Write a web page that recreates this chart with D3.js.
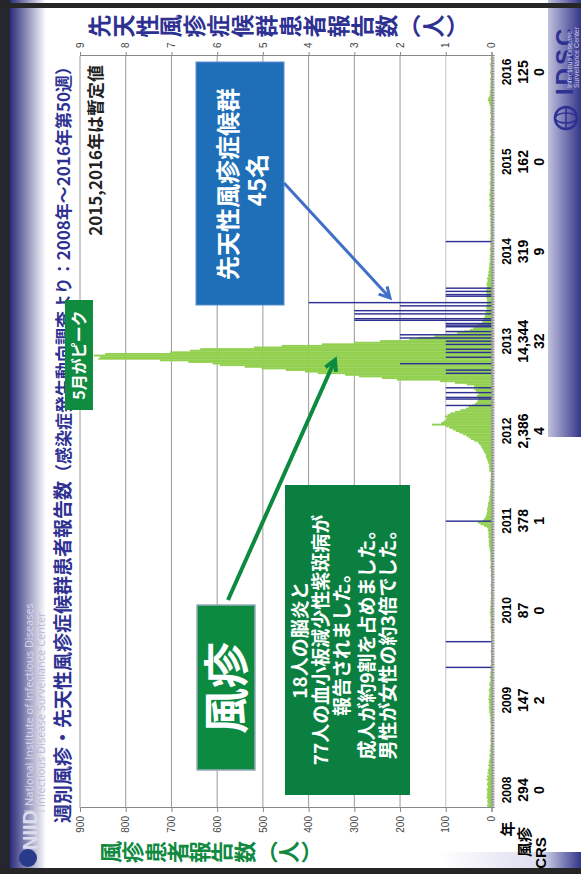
<!DOCTYPE html>
<html>
<head>
<meta charset="utf-8">
<script src="https://cdn.jsdelivr.net/npm/d3@7"></script>
<style>
  body { margin: 0; background: #fff; }
  svg { display: block; }
  .jp { font-family: "Noto Sans CJK JP", "Noto Sans", sans-serif; font-weight: bold; }
  .num { font-family: "Liberation Sans", Arial, sans-serif; font-weight: bold; }
  .axis text { font-family: "Liberation Sans", Arial, sans-serif; font-size: 10px; fill: #444; }
  .axis path, .axis line { stroke: #888; }
</style>
</head>
<body>
<div id="chart"></div>
<script>
// weekly rubella reports, one array per year (2016 up to week 50)
var rubella2008 = [8,10,7,9,9,8,11,9,10,9,9,11,8,8,10,9,7,11,8,10,6,9,7,8,6,5,7,4,6,5,4,3,5,3,2,4,3,2,3,2,1,3,2,2,1,2,3,1,2,2,1,2];
var rubella2009 = [2,3,2,3,2,4,3,5,4,5,6,4,5,6,5,7,4,6,5,4,5,6,4,3,5,4,3,2,3,4,2,3,2,1,2,1,2,1,1,2,1,1,0,1,1,2,1,0,1,1,1,0,1];
var rubella2010 = [1,2,1,1,2,1,2,3,1,2,2,3,2,1,3,2,4,2,3,2,3,1,2,2,1,2,1,1,2,1,1,0,1,2,1,1,0,1,1,2,1,1,2,1,3,2,2,1,2,3,2,3];
var rubella2011 = [2,3,3,4,4,5,6,5,6,6,5,7,6,7,6,8,7,10,16,24,30,20,17,14,12,11,10,9,10,9,8,7,8,6,5,4,5,4,3,4,3,3,2,3,2,2,3,2,2,1,2,1];
var rubella2012 = [4,5,5,6,5,7,8,9,11,12,12,14,16,18,20,22,24,27,30,38,45,50,55,62,70,78,85,92,100,130,110,105,100,98,102,96,90,80,68,56,50,42,36,32,30,28,30,32,28,30,34,38];
var rubella2013 = [30,38,54,80,113,207,240,290,320,380,408,450,503,540,594,610,663,725,860,856,870,845,703,660,637,520,459,371,300,244,180,160,125,98,75,60,47,40,35,30,21,20,18,16,15,14,12,13,11,10,12,9];
var rubella2014 = [10,11,9,10,11,12,10,11,12,11,12,9,11,10,9,8,10,7,8,6,7,5,6,5,4,5,4,3,4,3,4,3,2,3,4,3,2,3,2,3,2,3,2,2,3,2,3,2,2,3,2,3];
var rubella2015 = [2,3,2,4,3,2,3,4,3,5,4,3,4,5,3,4,5,4,3,4,3,2,3,4,3,2,3,2,3,4,2,3,2,3,2,3,2,4,3,2,3,2,3,2,4,3,2,3,2,3,4,2,3];
var rubella2016 = [2,1,2,3,2,1,2,3,2,2,3,2,1,2,3,2,3,2,3,4,5,6,8,7,5,4,3,4,3,2,3,2,3,2,2,3,2,1,2,3,2,2,1,2,3,2,1,2,2,1];

// congenital rubella syndrome cases by report week
var crsYear  = [2009,2009,2011,2012,2012,2012,2012,2013,2013,2013,2013,2013,2013,2013,2013,2013,2013,2013,2013,2013,2013,2013,2013,2013,2013,2013,2013,2014,2014,2014,2014,2014,2014];
var crsWeek  = [36,52,22,42,46,47,50,1,10,12,16,20,23,25,28,30,32,34,36,39,40,41,43,44,47,49,52,2,6,7,9,11,40];
var crsCount = [1,1,1,1,1,1,1,1,1,1,2,1,1,1,1,1,2,2,1,1,1,1,3,3,3,3,2,4,1,1,1,1,1];

// table under the chart
var years = ["2008","2009","2010","2011","2012","2013","2014","2015","2016"];
var rubellaTotals = ["294","147","87","378","2,386","14,344","319","162","125"];
var crsTotals = ["0","2","0","1","4","32","9","0","0"];

var leftTicks = [0,100,200,300,400,500,600,700,800,900];
var rightTicks = [0,1,2,3,4,5,6,7,8,9];

var leftTitle = "風疹患者報告数︵人︶";
var rightTitle = "先天性風疹症候群患者報告数︵人︶";
var textLines = ["18人の脳炎と", "77人の血小板減少性紫斑病が", "報告されました。", "成人が約9割を占めました。", "男性が女性の約3倍でした。"];

var yearly = [rubella2008, rubella2009, rubella2010, rubella2011, rubella2012, rubella2013, rubella2014, rubella2015, rubella2016];

//Flatten weekly data and remember where each year starts
var weekly = [];
var yearStart = {};
yearly.forEach(function(arr, i) {
  yearStart[years[i]] = weekly.length;
  arr.forEach(function(v) { weekly.push(v); });
});
var crs = crsYear.map(function(y, i) {
  return { idx: yearStart[y] + crsWeek[i] - 1, n: crsCount[i] };
});

//The slide is landscape (874 x 581) and shown rotated into the portrait page
var W = 874, H = 581;
var svg = d3.select("#chart").append("svg")
  .attr("width", 581)
  .attr("height", 874);

var defs = svg.append("defs");
var g1 = defs.append("linearGradient").attr("id", "topBand")
  .attr("x1", 0).attr("y1", 0).attr("x2", 0).attr("y2", 1);
g1.append("stop").attr("offset", "0%").attr("stop-color", "#2a2c7c");
g1.append("stop").attr("offset", "100%").attr("stop-color", "#ffffff");
var g2 = defs.append("linearGradient").attr("id", "botBand")
  .attr("x1", 0).attr("y1", 0).attr("x2", 0).attr("y2", 1);
g2.append("stop").attr("offset", "0%").attr("stop-color", "#ffffff");
g2.append("stop").attr("offset", "72%").attr("stop-color", "#dcdcee");
g2.append("stop").attr("offset", "100%").attr("stop-color", "#34358a");

var slide = svg.append("g")
  .attr("transform", "translate(0," + W + ") rotate(-90)");

//Slide background, bands and the white chart area on top of them
slide.append("rect").attr("width", W).attr("height", H).attr("fill", "#fff");
slide.append("rect").attr("x", 0).attr("y", 440).attr("width", W).attr("height", 141).attr("fill", "url(#botBand)");
slide.append("rect").attr("x", 22).attr("y", 46).attr("width", 415).attr("height", 535).attr("fill", "#fff");
slide.append("rect").attr("x", 22).attr("y", 46).attr("width", 852).attr("height", 502).attr("fill", "#fff");
slide.append("rect").attr("x", 0).attr("y", 0).attr("width", W).attr("height", 10).attr("fill", "#262630");
slide.append("rect").attr("x", 0).attr("y", 10).attr("width", W).attr("height", 36).attr("fill", "url(#topBand)");
slide.append("rect").attr("x", 0).attr("y", 0).attr("width", 6).attr("height", H).attr("fill", "#262626");
slide.append("rect").attr("x", 866).attr("y", 0).attr("width", 5).attr("height", H).attr("fill", "#262626");

//Scales
var x = d3.scaleLinear().domain([0, weekly.length]).range([66, 818]);
var y = d3.scaleLinear().domain([0, 900]).range([491.5, 80]);
var yR = d3.scaleLinear().domain([0, 9]).range([491.5, 80]);

//Grid
slide.append("g")
  .selectAll("line")
  .data(leftTicks.slice(1))
  .enter()
  .append("line")
  .attr("x1", 66).attr("x2", 818)
  .attr("y1", function(d) { return y(d); })
  .attr("y2", function(d) { return y(d); })
  .attr("stroke", function(d) { return d == 100 ? "#c4c4c4" : "#9a9a9a"; })
  .attr("stroke-width", 1);

//Rubella bars
slide.append("g")
  .selectAll("rect")
  .data(weekly)
  .enter()
  .append("rect")
  .attr("x", function(d, i) { return x(i); })
  .attr("width", function(d, i) { return x(i + 1) - x(i) + 0.3; })
  .attr("y", function(d) { return y(d); })
  .attr("height", function(d) { return y(0) - y(d); })
  .attr("fill", "#92d050");

//CRS bars
slide.append("g")
  .selectAll("rect")
  .data(crs)
  .enter()
  .append("rect")
  .attr("x", function(d) { return x(d.idx) + 0.1; })
  .attr("width", function(d) { return (x(d.idx + 1) - x(d.idx)) * 0.9; })
  .attr("y", function(d) { return yR(d.n); })
  .attr("height", function(d) { return yR(0) - yR(d.n); })
  .attr("fill", "#2e3192");

//Axes
slide.append("g")
  .attr("class", "axis")
  .attr("transform", "translate(66,0)")
  .call(d3.axisLeft(y).tickValues(leftTicks).tickSize(4).tickPadding(4));

slide.append("g")
  .attr("class", "axis")
  .attr("transform", "translate(818,0)")
  .call(d3.axisRight(yR).tickValues(rightTicks).tickSize(4).tickPadding(4));

slide.append("g")
  .attr("class", "axis")
  .attr("transform", "translate(0,491.5)")
  .call(d3.axisBottom(x).tickValues(d3.range(weekly.length + 1)).tickSize(3).tickFormat(""))
  .selectAll("line").attr("stroke", "#aaa");

//Table under the time axis
var col = d3.scalePoint().domain(years).range([84, 802]);
var rows = [years, rubellaTotals, crsTotals];
var rowY = [511, 528, 544];
rows.forEach(function(r, k) {
  slide.append("g")
    .selectAll("text")
    .data(r)
    .enter()
    .append("text")
    .attr("class", "num")
    .attr("x", function(d, i) { return col(years[i]); })
    .attr("y", rowY[k])
    .attr("text-anchor", "middle")
    .style("font-size", k == 0 ? "12px" : "14px")
    .text(function(d) { return d; });
});
slide.append("text").attr("class", "jp").attr("x", 45).attr("y", 513)
  .attr("text-anchor", "middle").style("font-size", "15px").text("年");
slide.append("text").attr("class", "jp").attr("x", 32).attr("y", 530)
  .attr("text-anchor", "middle").style("font-size", "15px").text("風疹");
slide.append("text").attr("class", "num").attr("x", 21).attr("y", 546)
  .attr("text-anchor", "middle").style("font-size", "15px").text("CRS");

//Axis titles, written vertically one character at a time
function verticalTitle(str, cx, top, step, size, color) {
  slide.append("g")
    .selectAll("text")
    .data(str.split(""))
    .enter()
    .append("text")
    .attr("class", "jp")
    .attr("x", cx)
    .attr("y", function(d, i) { return top + i * step + size * 0.86; })
    .attr("text-anchor", "middle")
    .style("font-size", size + "px")
    .attr("fill", color)
    .text(function(d) { return d; });
}
verticalTitle(leftTitle, 22, 100, 22.3, 22, "#0f8a3f");
verticalTitle(rightTitle, 848, 88, 23.9, 23, "#2e3192");

//Title
var title = slide.append("text")
  .attr("class", "jp")
  .attr("x", 51).attr("y", 70)
  .attr("fill", "#2e3192");
title.append("tspan").style("font-size", "19px").text("週別風疹・先天性風疹症候群患者報告数");
title.append("tspan").style("font-size", "17px").text("（感染症発生動向調査より：2008年～2016年第50週）");

//NIID header
slide.append("text").attr("x", 68).attr("y", 33)
  .style("font-family", "'Open Sans', sans-serif").style("font-size", "11px")
  .attr("fill", "#d8d8ee").text("National Institute of Infectious Diseases");
slide.append("text").attr("x", 67).attr("y", 45)
  .style("font-family", "'Open Sans', sans-serif").style("font-size", "11px")
  .attr("fill", "#b8b8d8").text("Infectious Disease Surveillance Center");
slide.append("line").attr("x1", 63).attr("x2", 63).attr("y1", 24).attr("y2", 45)
  .attr("stroke", "#c8c8e0");
slide.append("circle").attr("cx", 16).attr("cy", 28).attr("r", 9).attr("fill", "#2a3a8a");
slide.append("text").attr("x", 24).attr("y", 37)
  .style("font-family", "'Liberation Sans', sans-serif").style("font-weight", "bold").style("font-size", "20px")
  .attr("fill", "#dde").text("NIID");

//IDSC logo
var globe = slide.append("g").attr("transform", "translate(756,566)");
globe.append("circle").attr("r", 11).attr("fill", "none").attr("stroke", "#2e3192").attr("stroke-width", 2.5);
globe.append("ellipse").attr("rx", 5).attr("ry", 11).attr("fill", "none").attr("stroke", "#2e3192").attr("stroke-width", 1.5);
globe.append("line").attr("x1", -11).attr("x2", 11).attr("stroke", "#2e3192").attr("stroke-width", 1.5);
slide.append("text").attr("x", 779).attr("y", 573)
  .style("font-family", "'Liberation Sans', sans-serif").style("font-weight", "bold").style("font-size", "24px")
  .style("letter-spacing", "3px")
  .attr("fill", "#2e3192").text("IDSC");
slide.append("text").attr("x", 786).attr("y", 572)
  .style("font-family", "'Liberation Sans', sans-serif").style("font-size", "7px")
  .attr("fill", "#c8c8e8").text("Infectious Disease");
slide.append("text").attr("x", 786).attr("y", 579)
  .style("font-family", "'Liberation Sans', sans-serif").style("font-size", "7px")
  .attr("fill", "#c8c8e8").text("Surveillance Center");

//Annotations
slide.append("text").attr("class", "jp")
  .attr("x", 809).attr("y", 102)
  .attr("text-anchor", "end")
  .style("font-size", "17px")
  .attr("fill", "#222")
  .text("2015,2016年は暫定値");

slide.append("rect").attr("x", 464).attr("y", 65).attr("width", 110).attr("height", 28).attr("fill", "#0f8c3f");
slide.append("text").attr("class", "jp")
  .attr("x", 519).attr("y", 85)
  .attr("text-anchor", "middle")
  .style("font-size", "16px")
  .attr("fill", "#fff")
  .text("5月がピーク");

slide.append("rect").attr("x", 569).attr("y", 196).attr("width", 243).attr("height", 88)
  .attr("fill", "#1e6fb8").attr("stroke", "#5a8fd0");
slide.append("text").attr("class", "jp")
  .attr("x", 690).attr("y", 237)
  .attr("text-anchor", "middle")
  .style("font-size", "24px")
  .attr("fill", "#fff")
  .text("先天性風疹症候群");
slide.append("text").attr("class", "jp")
  .attr("x", 694).attr("y", 266)
  .attr("text-anchor", "middle")
  .style("font-size", "24px")
  .attr("fill", "#fff")
  .text("45名");

slide.append("rect").attr("x", 104).attr("y", 197).attr("width", 165).attr("height", 58)
  .attr("fill", "#0c8a40").attr("stroke", "#9ab").attr("stroke-width", 1.5);
slide.append("text").attr("class", "jp")
  .attr("x", 186).attr("y", 243)
  .attr("text-anchor", "middle")
  .style("font-size", "46px")
  .attr("fill", "#fff")
  .text("風疹");

slide.append("rect").attr("x", 79).attr("y", 285).attr("width", 310).attr("height", 125).attr("fill", "#0b7f3f");
slide.append("g")
  .selectAll("text")
  .data(textLines)
  .enter()
  .append("text")
  .attr("class", "jp")
  .attr("x", 234)
  .attr("y", function(d, i) { return 307 + i * 21 + (i > 2 ? 4 : 0); })
  .attr("text-anchor", "middle")
  .style("font-size", "19px")
  .attr("fill", "#fff")
  .text(function(d) { return d; });

//Arrows
function arrow(x1, y1, x2, y2, color, w) {
  var a = Math.atan2(y2 - y1, x2 - x1), L = 12, s = 0.5;
  slide.append("line").attr("x1", x1).attr("y1", y1).attr("x2", x2).attr("y2", y2)
    .attr("stroke", color).attr("stroke-width", w);
  slide.append("path")
    .attr("d", "M" + (x2 - L * Math.cos(a - s)) + "," + (y2 - L * Math.sin(a - s)) +
      "L" + x2 + "," + y2 +
      "L" + (x2 - L * Math.cos(a + s)) + "," + (y2 - L * Math.sin(a + s)))
    .attr("fill", "none").attr("stroke", color).attr("stroke-width", w);
}
arrow(691, 284, 576, 390, "#3f6fc7", 3);
arrow(274, 228, 514, 335, "#0c8a40", 4);
</script>
</body>
</html>
